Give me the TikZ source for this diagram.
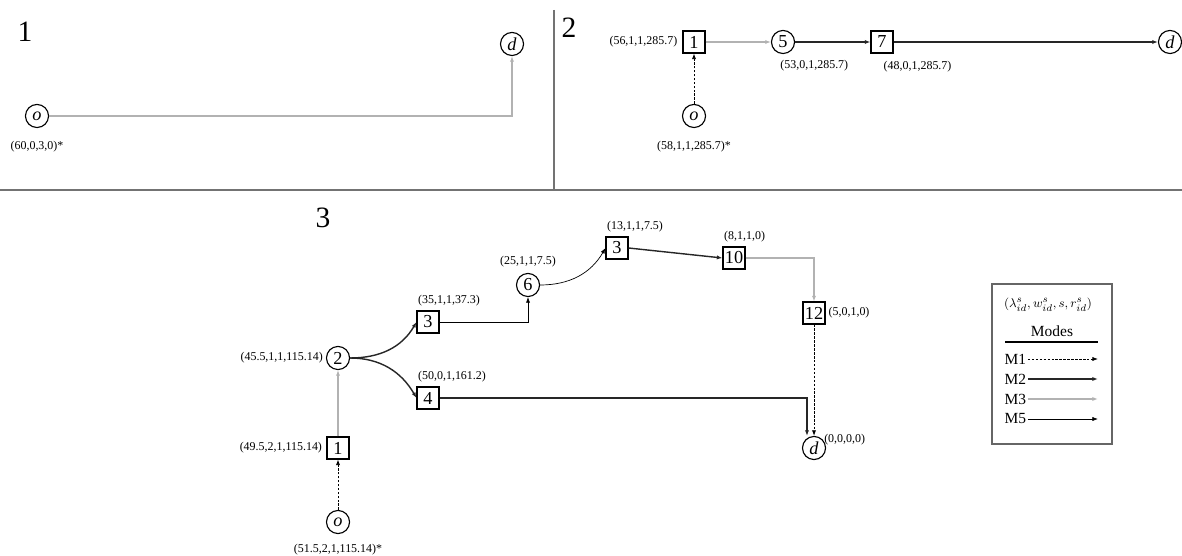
\documentclass[tikz,border=0pt]{standalone}
\usepackage{fontspec}
\setmainfont{Liberation Serif}
\usetikzlibrary{arrows.meta,positioning}

\begin{document}
\begin{tikzpicture}[
  x=0.025cm, y=-0.025cm,
  >={Latex[length=4pt,width=3pt]},
  stationnode/.style={draw, circle, line width=0.8pt, minimum size=16.4pt, inner sep=0pt, font=\fontsize{13}{13}\selectfont},
  stopbox/.style={draw, rectangle, line width=0.8pt, minimum size=15.6pt, inner sep=0.5pt, font=\fontsize{13}{13}\selectfont},
  lbl/.style={font=\fontsize{8.5}{9}\selectfont, inner sep=1pt},
  panelno/.style={font=\fontsize{21}{21}\selectfont},
  legtext/.style={font=\fontsize{11}{12}\selectfont, inner sep=1pt},
  mone/.style={->, dash pattern=on 1.8pt off 1pt, line width=0.6pt},
  mtwo/.style={->, line width=1pt, black!85},
  mthree/.style={->, line width=1pt, black!30},
  mfive/.style={->, line width=0.5pt},
  divider/.style={black!55, line width=0.8pt},
  legendframe/.style={draw=black!60, line width=0.8pt}
]

\useasboundingbox (0,0) rectangle (1182,556);

% Trennlinien
\draw[divider] (0,190) -- (1182,190);
\draw[divider] (554,10) -- (554,190);

% Fall 1
\node[panelno] (p1) at (25,32) {1};
\node[stationnode] (o1) at (37,116) {\textit{o}};
\node[stationnode] (d1) at (512,44) {\textit{d}};
\node[lbl, below=8pt of o1] (o1lab) {(60,0,3,0)*};
\draw[mthree] (o1) -| (d1);

% Fall 2
\node[panelno] (p2) at (569,28) {2};
\node[stopbox] (s1b) at (694,42) {1};
\node[stationnode] (c5b) at (783,42) {5};
\node[stopbox] (s7b) at (882,42) {7};
\node[stationnode] (d2) at (1170,42) {\textit{d}};
\node[stationnode] (o2) at (694,116) {\textit{o}};
\node[lbl, left=2.5pt of s1b] (s1blab) {(56,1,1,285.7)};
\node[lbl, anchor=north west] (c5blab) at ([xshift=-3pt,yshift=-3pt]c5b.south) {(53,0,1,285.7)};
\node[lbl, anchor=north west] (s7blab) at ([yshift=-4pt]s7b.south) {(48,0,1,285.7)};
\node[lbl, below=8pt of o2] (o2lab) {(58,1,1,285.7)*};
\draw[mone] (o2) -- (s1b);
\draw[mthree] (s1b) -- (c5b);
\draw[mtwo] (c5b) -- (s7b);
\draw[mtwo] (s7b) -- (d2);

% Fall 3
\node[panelno] (p3) at (323,218) {3};
\node[stationnode] (o3) at (338,522) {\textit{o}};
\node[stopbox] (s1c) at (338,448) {1};
\node[stationnode] (c2c) at (338,358) {2};
\node[stopbox] (s3c) at (428,322) {3};
\node[stopbox] (s4c) at (428,398) {4};
\node[stationnode] (c6c) at (528,285) {6};
\node[stopbox] (s3d) at (617,248) {3};
\node[stopbox] (s10c) at (734,258) {10};
\node[stopbox] (s12c) at (814,313) {12};
\node[stationnode] (d3) at (814,448) {\textit{d}};

\node[lbl, below=6pt of o3] (o3lab) {(51.5,2,1,115.14)*};
\node[lbl, left=2pt of s1c] (s1clab) {(49.5,2,1,115.14)};
\node[lbl, left=1pt of c2c] (c2clab) {(45.5,1,1,115.14)};
\node[lbl, anchor=south west] (s3clab) at ([yshift=2pt]s3c.north west) {(35,1,1,37.3)};
\node[lbl, anchor=south west] (s4clab) at ([yshift=2pt]s4c.north west) {(50,0,1,161.2)};
\node[lbl, above=3pt of c6c] (c6clab) {(25,1,1,7.5)};
\node[lbl, anchor=south west] (s3dlab) at ([yshift=2pt]s3d.north west) {(13,1,1,7.5)};
\node[lbl, anchor=south west] (s10clab) at ([yshift=2pt]s10c.north west) {(8,1,1,0)};
\node[lbl, right=1pt of s12c] (s12clab) {(5,0,1,0)};
\node[lbl, anchor=west] (d3lab) at (d3.north east) {(0,0,0,0)};

\draw[mone] (o3) -- (s1c);
\draw[mthree] (s1c) -- (c2c);
\draw[mtwo] (c2c.east) to[out=0, in=240] (s3c.west);
\draw[mtwo] (c2c.east) to[out=0, in=120] (s4c.west);
\draw[mfive] (s3c) -| (c6c);
\draw[mfive] (c6c.east) to[out=0, in=240] (s3d.west);
\draw[mtwo] (s3d.east) -- (s10c.west);
\draw[mthree] (s10c) -| (s12c);
\draw[mone] (s12c) -- (d3);
\draw[mtwo] (s4c) -| ([xshift=-5pt]d3.north);

% Legende
\draw[legendframe] (992,284) rectangle (1112,444);
\node[legtext, font=\fontsize{9.5}{10}\selectfont] (leghead) at (1048,305) {$(\lambda^{s}_{id}, w^{s}_{id}, s, r^{s}_{id})$};
\node[legtext] (legmodes) at (1052,331) {Modes};
\draw[line width=0.8pt] (1005,342) -- (1098,342);
\foreach \m/\s/\y in {M1/mone/359, M2/mtwo/379, M3/mthree/399, M5/mfive/419} {
  \node[legtext, anchor=west] (leg\m) at (1003,\y) {\m};
  \coordinate (end\m) at (1098,\y);
  \draw[\s] (leg\m) -- (end\m);
}

\end{tikzpicture}
\end{document}
